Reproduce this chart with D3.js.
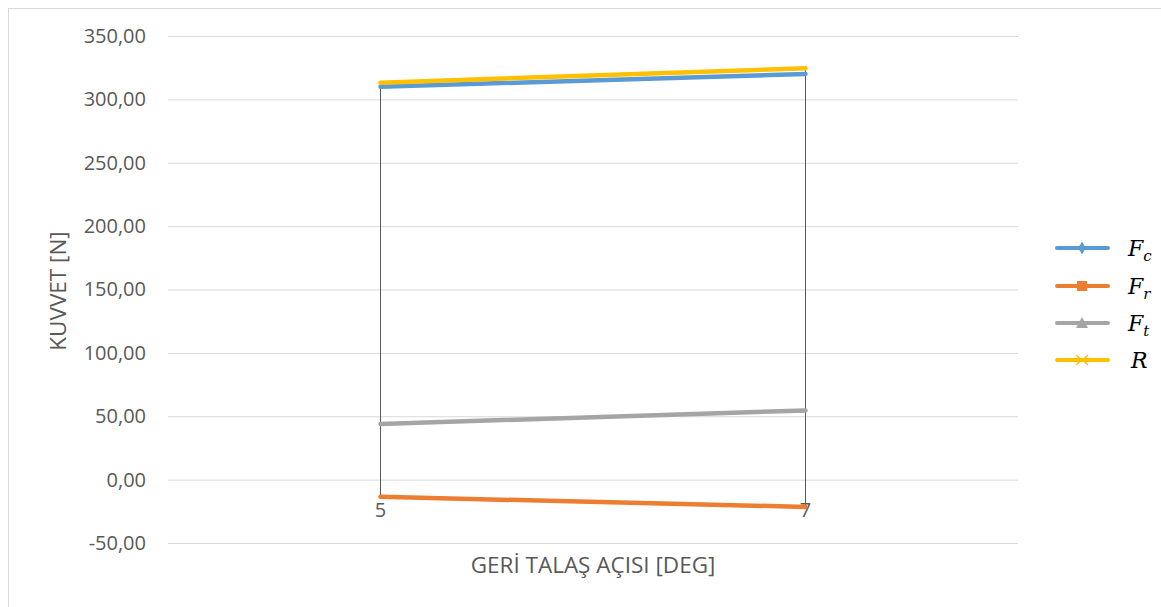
<!DOCTYPE html>
<html>
<head>
<meta charset="utf-8">
<script src="https://cdn.jsdelivr.net/npm/d3@7"></script>
<style>
  html, body { margin: 0; padding: 0; background: #fff; }
  svg { display: block; }
</style>
</head>
<body>
<svg id="chart" width="1161" height="607"></svg>
<script>
// Rake angle categories (degrees)
const categories = ["5", "7"];

// Force components in newtons
const fcValues = [310.0, 320.0];
const frValues = [-13.6, -21.5];
const ftValues = [43.9, 54.6];
const rValues  = [313.2, 324.5];

const yTicks = [-50, 0, 50, 100, 150, 200, 250, 300, 350];

const seriesNames = ["c", "r", "t", null];
const seriesColors = ["#5B9BD5", "#ED7D31", "#A5A5A5", "#FFC000"];
const seriesValues = [fcValues, frValues, ftValues, rValues];

const svg = d3.select("#chart");
const W = 1161, H = 607;
const plot = { left: 168, right: 1018, top: 36, bottom: 543 };
const font = "'Open Sans', 'Liberation Sans', sans-serif";

// Chart frame
svg.append("rect")
  .attr("x", 8.5).attr("y", 8.5)
  .attr("width", W + 20).attr("height", H + 20)
  .attr("fill", "#fff").attr("stroke", "#d9d9d9").attr("stroke-width", 1);

const x = d3.scaleBand().domain(categories).range([plot.left, plot.right]);
const y = d3.scaleLinear().domain([-50, 350]).range([plot.bottom, plot.top]);
const cx = c => x(c) + x.bandwidth() / 2;

// Horizontal gridlines and value labels (comma decimals, plain hyphen minus)
const yAxis = d3.axisLeft(y)
  .tickValues(yTicks)
  .tickSize(-(plot.right - plot.left))
  .tickPadding(22)
  .tickFormat(d => d3.format(".2f")(d).replace(".", ",").replace("\u2212", "-"));

const gy = svg.append("g")
  .attr("transform", `translate(${plot.left},0)`)
  .call(yAxis);
gy.select(".domain").remove();
gy.selectAll(".tick line").attr("stroke", "#d9d9d9").attr("stroke-width", 1);
gy.selectAll(".tick text")
  .attr("fill", "#595959")
  .style("font-family", font)
  .style("font-size", "20px");

// High-low lines at each category
categories.forEach((c, i) => {
  const vals = seriesValues.map(s => s[i]);
  svg.append("line")
    .attr("x1", cx(c)).attr("x2", cx(c))
    .attr("y1", y(d3.max(vals))).attr("y2", y(d3.min(vals)))
    .attr("stroke", "#595959").attr("stroke-width", 1);
});

// Category labels sit just below the zero line
const xAxis = d3.axisBottom(x).tickSize(0).tickPadding(23);
const gx = svg.append("g")
  .attr("transform", `translate(0,${y(0)})`)
  .call(xAxis);
gx.select(".domain").remove();
gx.selectAll(".tick text")
  .attr("fill", "#595959")
  .style("font-family", font)
  .style("font-size", "20px");

// Series lines
const line = d3.line()
  .x((d, i) => cx(categories[i]))
  .y(d => y(d));

seriesValues.forEach((vals, k) => {
  svg.append("path")
    .datum(vals)
    .attr("d", line)
    .attr("fill", "none")
    .attr("stroke", seriesColors[k])
    .attr("stroke-width", 4.5)
    .attr("stroke-linecap", "round");
});

// Axis titles
svg.append("text")
  .attr("x", (plot.left + plot.right) / 2)
  .attr("y", 573)
  .attr("text-anchor", "middle")
  .attr("fill", "#595959")
  .style("font-family", font)
  .style("font-size", "22.5px")
  .text("GERİ TALAŞ AÇISI [DEG]");

svg.append("text")
  .attr("transform", "translate(66,291) rotate(-90)")
  .attr("text-anchor", "middle")
  .attr("fill", "#595959")
  .style("font-family", font)
  .style("font-size", "22.5px")
  .text("KUVVET [N]");

// Legend
const legendY = [248, 286, 323, 360];
const lx0 = 1057, lx1 = 1108, mx = 1082;
const mathFont = "'DejaVu Serif', 'Liberation Serif', serif";

seriesValues.forEach((vals, k) => {
  const g = svg.append("g").attr("transform", `translate(0,${legendY[k]})`);
  g.append("line")
    .attr("x1", lx0).attr("x2", lx1)
    .attr("stroke", seriesColors[k])
    .attr("stroke-width", 4)
    .attr("stroke-linecap", "round");
  const col = seriesColors[k];
  if (k === 0) {
    g.append("path").attr("d", d3.symbol(d3.symbolDiamond, 50)())
      .attr("transform", `translate(${mx},0)`).attr("fill", col);
  } else if (k === 1) {
    g.append("rect").attr("x", mx - 5).attr("y", -5).attr("width", 10).attr("height", 10).attr("fill", col);
  } else if (k === 2) {
    g.append("path").attr("d", "M-6,5 L0,-6 L6,5 Z")
      .attr("transform", `translate(${mx},0)`).attr("fill", col);
  } else {
    g.append("path").attr("d", "M-6,-5 L6,5 M-6,5 L6,-5")
      .attr("transform", `translate(${mx},0)`).attr("stroke", col).attr("stroke-width", 1.5);
  }
  const t = g.append("text")
    .attr("x", seriesNames[k] ? 1128 : 1131)
    .attr("y", 8)
    .attr("fill", "#000")
    .style("font-family", mathFont)
    .style("font-style", "italic")
    .style("font-size", "22px");
  if (seriesNames[k]) {
    t.append("tspan").text("F");
    t.append("tspan").attr("dy", 5).style("font-size", "15px").text(seriesNames[k]);
  } else {
    t.append("tspan").text("R");
  }
});
</script>
</body>
</html>
